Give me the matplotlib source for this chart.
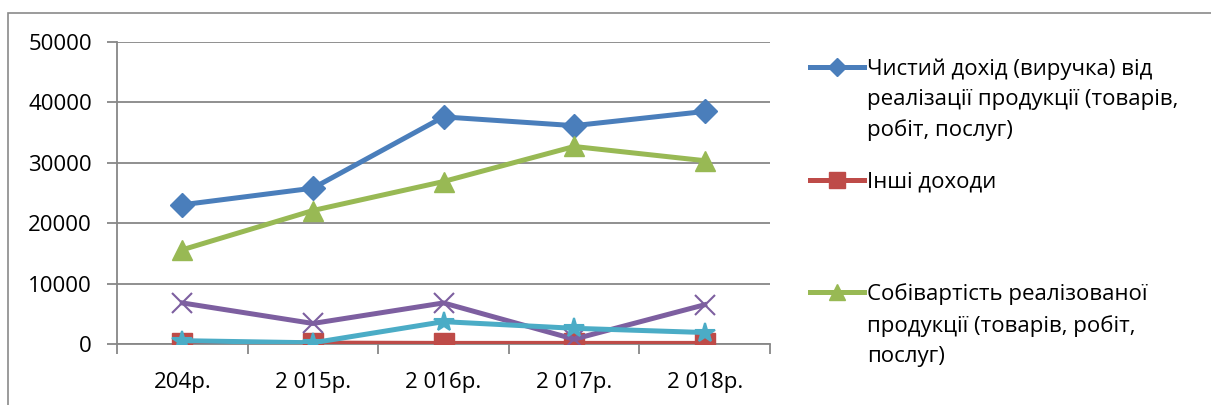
import matplotlib.pyplot as plt
from matplotlib.lines import Line2D
from matplotlib.patches import Rectangle

plt.rcParams["font.family"] = ["Open Sans", "DejaVu Sans"]

years = ["204р.", "2 015р.", "2 016р.", "2 017р.", "2 018р."]
net_income = [23050, 25800, 37600, 36150, 38500]
other_income = [200, 150, 100, 100, 100]
cost_of_sales = [15600, 22100, 26900, 32700, 30350]
series_4 = [6800, 3400, 6800, 800, 6500]
series_5 = [550, 200, 3700, 2600, 1900]

label_net = "Чистий дохід (виручка) від\nреалізації продукції (товарів,\nробіт, послуг)"
label_other = "Інші доходи"
label_cost = "Собівартість реалізованої\nпродукції (товарів, робіт,\nпослуг)"

fig = plt.figure(figsize=(12.11, 4.05), dpi=100)

# рамка області діаграми (обрізана справа і знизу)
fig.add_artist(Rectangle((8 / 1211, -0.1), 1.2, 1 - 13 / 405 + 0.1,
                         transform=fig.transFigure, fill=False,
                         edgecolor="#8a8a8a", linewidth=1.2))

ax = fig.add_axes([117 / 1211, 61 / 405, 653 / 1211, 302 / 405])
ax.patch.set_alpha(0)

x = list(range(len(years)))
styles = [
    (net_income, "#4A7EBB", "D", 12),
    (other_income, "#BE4B48", "s", 14),
    (cost_of_sales, "#98B954", "^", 15),
    (series_4, "#7D5FA0", "x", 14),
    (series_5, "#4BACC6", "*", 15),
]
for vals, col, mk, ms in styles:
    ax.plot(x, vals, color=col, linewidth=3.6, marker=mk, markersize=ms,
            markeredgewidth=1.5 if mk in "x*" else 1, markeredgecolor=col,
            zorder=3)

ax.set_xlim(-0.5, 4.5)
ax.set_ylim(0, 50000)
ax.set_yticks(range(0, 50001, 10000))
ax.grid(axis="y", color="#878787", linewidth=1.3)
ax.set_axisbelow(True)
for s in ["top", "right"]:
    ax.spines[s].set_visible(False)
for s in ["left", "bottom"]:
    ax.spines[s].set_color("#878787")
    ax.spines[s].set_linewidth(1.3)

ax.set_xticks([i - 0.5 for i in range(len(years) + 1)])
ax.set_xticklabels([])
ax.set_xticks(x, minor=True)
ax.set_xticklabels(years, minor=True, fontsize=16)
ax.tick_params(axis="x", which="major", length=7, width=1.3, color="#878787")
ax.tick_params(axis="x", which="minor", length=0, pad=20)
ax.tick_params(axis="y", length=7, width=1.3, color="#878787", labelsize=16, pad=11)


def leg_item(y_px, col, mk, ms, text):
    yf = 1 - y_px / 405
    fig.add_artist(Line2D([810 / 1211, 864 / 1211], [yf, yf], color=col,
                          linewidth=3.6, transform=fig.transFigure))
    fig.add_artist(Line2D([837 / 1211], [yf], color=col, marker=mk, markersize=ms,
                          markeredgecolor=col, transform=fig.transFigure))
    fig.text(867 / 1211, 1 - (y_px - 9) / 405, text, fontsize=16,
             va="top", ha="left", linespacing=1.58)


leg_item(67, "#4A7EBB", "D", 9, label_net)
leg_item(180, "#BE4B48", "s", 12, label_other)
leg_item(292, "#98B954", "^", 11, label_cost)

fig.savefig("out.png", dpi=100)
